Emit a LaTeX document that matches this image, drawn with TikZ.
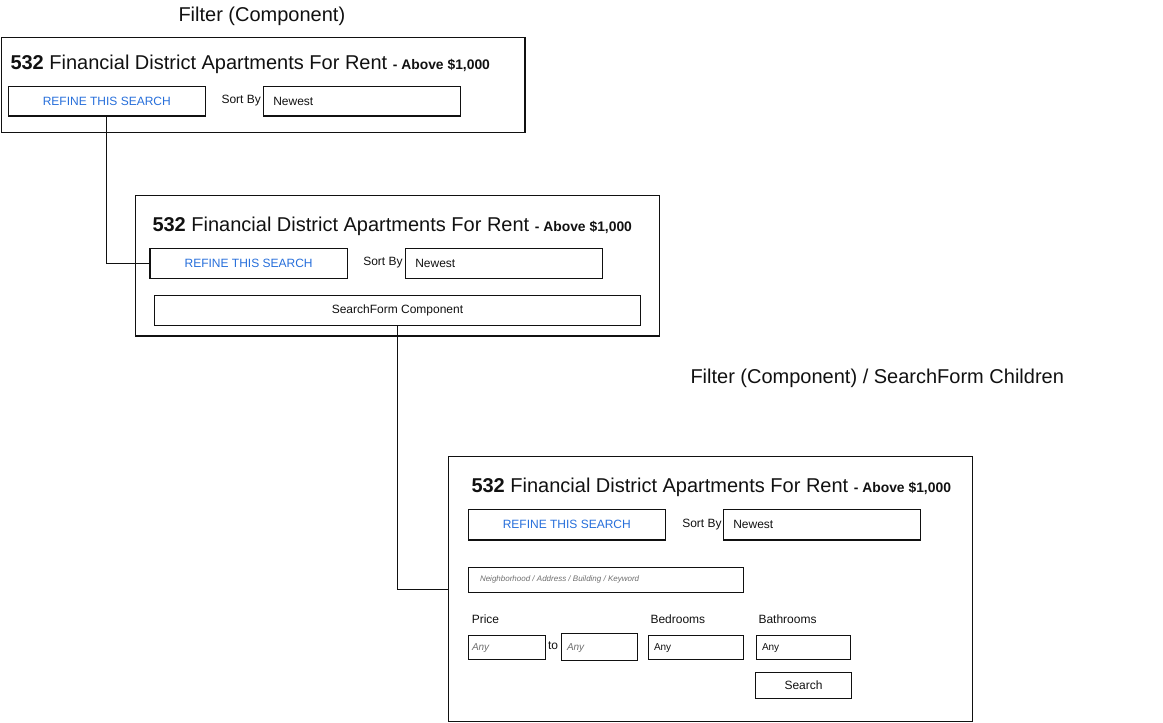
\documentclass[tikz,border=0pt]{standalone}
\usepackage{fontspec}
\setmainfont{Liberation Sans}
\definecolor{linkblue}{RGB}{38,110,218}
\definecolor{hint}{RGB}{110,110,110}
\definecolor{ink}{RGB}{17,17,17}
\newcommand{\bx}[6][]{%
  \node[box,#1,minimum width={(#5-#3)*0.75pt},minimum height={(#6-#4)*0.75pt}] (#2) at (#3,#4) {};}
\begin{document}
\begin{tikzpicture}[x=0.75pt,y=-0.75pt,
  box/.style={draw=ink,line width=0.9pt,inner sep=0pt,outer sep=0pt,anchor=north west},
  txt/.style={inner sep=0pt,outer sep=0pt,anchor=base west,text=ink},
  heading/.style={txt,font=\fontsize{15}{18}\selectfont},
  ttl/.style={txt,font=\fontsize{15}{18}\selectfont},
  small/.style={txt,font=\fontsize{9}{11}\selectfont},
  btn/.style={inner sep=0pt,text=linkblue,font=\fontsize{9}{11}\selectfont},
  hintx/.style={txt,text=hint,font=\fontsize{6}{7}\itshape},
  anyi/.style={txt,text=hint,font=\fontsize{7.5}{9}\itshape},
  anyn/.style={txt,font=\fontsize{7.5}{9}\selectfont},
  conn/.style={draw=ink,line width=0.9pt}]
\useasboundingbox (0,0) rectangle (1163,723);
\newcommand{\headtext}{{\bfseries 532} Financial District Apartments For Rent {\fontsize{10.4}{12}\bfseries\selectfont - Above \$1,000}}
% ---------- panel 1 ----------
\node[ttl] (title1) at (178.5,22) {Filter (Component)};
\bx{p1}{1.5}{37.5}{525}{132.5}
\node[heading] (h1) at (10.5,70) {\headtext};
\bx{ref1}{8.3}{86.7}{205.3}{116}
\node[btn] (ref1t) at (ref1.center) {REFINE THIS SEARCH};
\node[small] (sort1) at (221.5,104) {Sort By};
\bx{new1}{263.3}{86.7}{460.5}{116}
\node[small,anchor=west] (new1t) at ([xshift=7.5pt]new1.west) {Newest};
% ---------- panel 2 ----------
\bx{p2}{135.5}{195.3}{659.3}{336}
\node[heading] (h2) at (152.5,232) {\headtext};
\bx{ref2}{150}{248.3}{347.3}{278.3}
\node[btn] (ref2t) at (ref2.center) {REFINE THIS SEARCH};
\node[small] (sort2) at (363.3,266) {Sort By};
\bx{new2}{405.3}{248.3}{602.7}{278.3}
\node[small,anchor=west] (new2t) at ([xshift=7.5pt]new2.west) {Newest};
\bx{sf}{154.3}{295.3}{640.7}{325.3}
\node[small,anchor=center] (sft) at (sf.center) {SearchForm Component};
% ---------- panel 3 ----------
\node[ttl] (title2) at (690.5,383) {Filter (Component) / SearchForm Children};
\bx{p3}{448.3}{456.7}{972.7}{721.8}
\node[heading] (h3) at (471.5,492) {\headtext};
\bx{ref3}{468.3}{509.5}{665.3}{540}
\node[btn] (ref3t) at (ref3.center) {REFINE THIS SEARCH};
\node[small] (sort3) at (682.3,527.5) {Sort By};
\bx{new3}{723.3}{509.5}{920.3}{540}
\node[small,anchor=west] (new3t) at ([xshift=7.5pt]new3.west) {Newest};
\bx{kw}{468.3}{567.3}{743.3}{592.3}
\node[hintx] (kwt) at (480,581) {Neighborhood / Address / Building / Keyword};
\node[small] (price) at (471.8,623) {Price};
\node[small] (bedl) at (650.5,623) {Bedrooms};
\node[small] (bathl) at (758.5,623) {Bathrooms};
\bx{pmin}{468.3}{635.5}{545.3}{659.3}
\node[anyi] (pmint) at (472,650.5) {Any};
\node[small] (to) at (548,649) {to};
\bx{pmax}{561.3}{633.3}{637.7}{660.8}
\node[anyi] (pmaxt) at (567,650.5) {Any};
\bx{bed}{648.3}{635.5}{743.7}{659.3}
\node[anyn] (bedt) at (654,650.5) {Any};
\bx{bath}{756.3}{635.5}{850.7}{659.3}
\node[anyn] (batht) at (762,650.5) {Any};
\bx{srch}{755.3}{672.3}{851.7}{698.3}
\node[small,anchor=center] (srcht) at (srch.center) {Search};
% ---------- connectors ----------
\draw[conn] (ref1.south) |- (ref2.west);
\draw[conn] (sf.south) |- (p3.west);
\end{tikzpicture}
\end{document}
